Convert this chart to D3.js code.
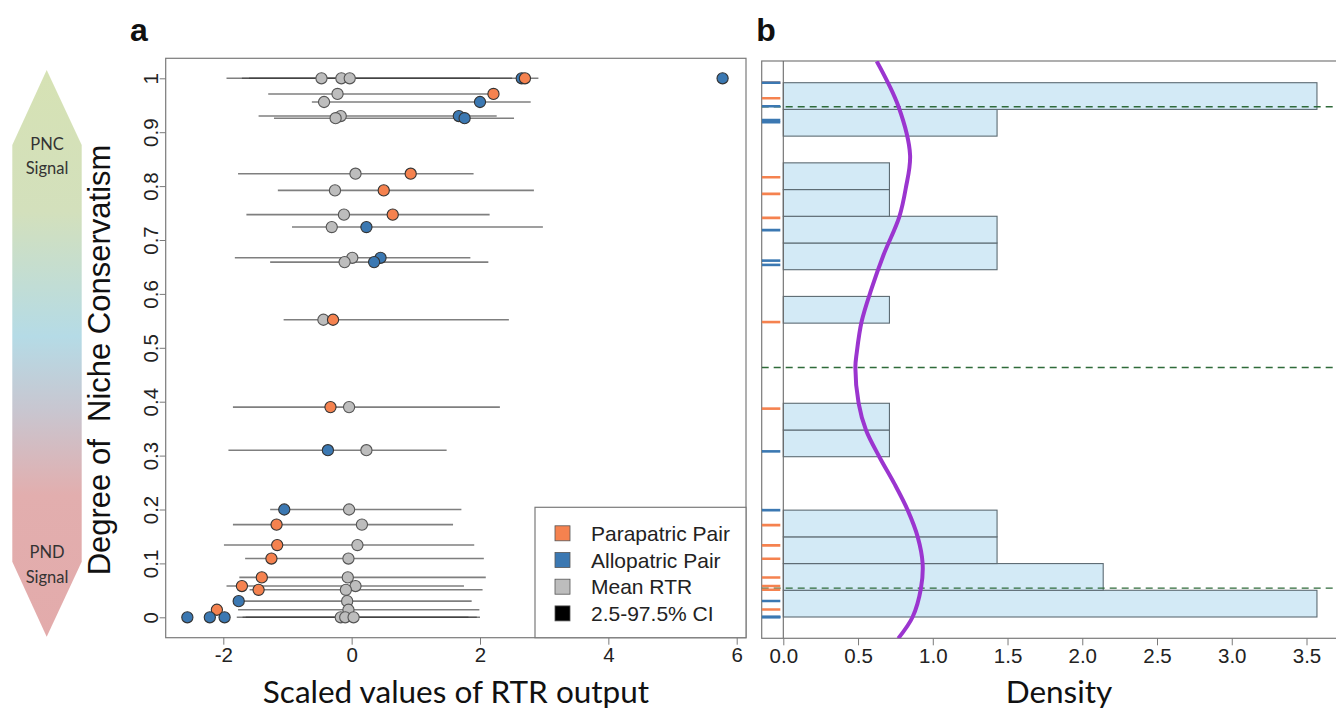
<!DOCTYPE html>
<html><head><meta charset="utf-8">
<script src="https://cdn.jsdelivr.net/npm/d3@7"></script>
<style>body{margin:0;background:#fff;}svg{display:block;}</style>
</head><body>
<svg id="chart" width="1336" height="711"></svg>
<script>
// ---------- data ----------
const degree   = [1.0, 1.0, 1.0, 0.971, 0.956, 0.930, 0.926, 0.823, 0.792, 0.747, 0.724, 0.667, 0.659, 0.552, 0.390, 0.310, 0.200, 0.172, 0.134, 0.109, 0.074, 0.058, 0.051, 0.030, 0.014, 0.0, 0.0, 0.0];
const observed = [2.65, 2.70, 5.78, 2.21, 2.00, 1.67, 1.76, 0.92, 0.50, 0.64, 0.23, 0.45, 0.35, -0.29, -0.33, -0.37, -1.05, -1.17, -1.16, -1.25, -1.40, -1.71, -1.45, -1.76, -2.10, -2.56, -2.21, -1.98];
const pairType = ["A","P","A","P","A","A","A","P","P","P","A","A","A","P","P","A","A","P","P","P","P","P","P","A","P","A","A","A"];
const meanRTR  = [-0.47, -0.16, -0.03, -0.22, -0.43, -0.17, -0.25, 0.06, -0.26, -0.12, -0.31, 0.01, -0.11, -0.44, -0.04, 0.23, -0.04, 0.16, 0.09, -0.05, -0.06, 0.06, -0.09, -0.07, -0.05, -0.17, -0.10, 0.03];
const ciLow    = [-1.95, -1.71, -1.60, -1.30, -0.62, -1.45, -1.21, -1.77, -1.15, -1.64, -0.93, -1.82, -1.27, -1.06, -1.85, -1.92, -1.27, -1.85, -1.99, -1.66, -1.75, -1.95, -1.59, -1.85, -1.77, -1.65, -1.79, -1.70];
const ciHigh   = [2.91, 2.00, 2.50, 2.25, 2.79, 2.26, 2.53, 1.90, 2.84, 2.15, 2.98, 1.85, 2.13, 2.45, 2.31, 1.48, 1.71, 1.58, 1.91, 2.06, 2.09, 1.75, 2.04, 1.87, 1.99, 1.82, 2.00, 1.95];

const xTicksA = [-2, 0, 2, 4, 6];
const yTicksA = [0, 0.1, 0.2, 0.3, 0.4, 0.5, 0.6, 0.7, 0.8, 0.9, 1];
const legendLabels = ["Parapatric Pair", "Allopatric Pair", "Mean RTR", "2.5-97.5% CI"];

// histogram (bin start, density), bin width 0.05
const binStart = [0.00, 0.05, 0.10, 0.15, 0.30, 0.35, 0.55, 0.65, 0.70, 0.75, 0.80, 0.90, 0.95];
const binDensity = [3.57, 2.14, 1.43, 1.43, 0.71, 0.71, 0.71, 1.43, 1.43, 0.71, 0.71, 1.43, 3.57];
const binWidth = 0.05;
const xTicksB = [0.0, 0.5, 1.0, 1.5, 2.0, 2.5, 3.0, 3.5];
const dashedLevels = [0.955, 0.467, 0.054];
// kernel density curve
const curveY = [1.04, 0.955, 0.865, 0.802, 0.749, 0.678, 0.615, 0.553, 0.494, 0.467, 0.400, 0.350, 0.300, 0.250, 0.200, 0.150, 0.100, 0.054, 0.000, -0.040];
const curveD = [0.625, 0.771, 0.848, 0.819, 0.776, 0.671, 0.591, 0.524, 0.491, 0.482, 0.504, 0.553, 0.642, 0.742, 0.832, 0.899, 0.932, 0.921, 0.865, 0.769];

// ---------- styling ----------
const COL = {P: "#f5824f", A: "#3b78b2", mean: "#bdbdbd"};
const sans = "'Liberation Sans', Arial, sans-serif";
const cal = "Lato, 'Open Sans', sans-serif";
const tickFont = 20.5;
const svg = d3.select("#chart");

// ---------- left gradient arrow ----------
const defs = svg.append("defs");
const grad = defs.append("linearGradient").attr("id","arrowGrad").attr("x1",0).attr("y1",0).attr("x2",0).attr("y2",1);
[[0,"#d6e2b4"],[0.25,"#d3e0bc"],[0.47,"#b5dbe6"],[0.6,"#c8c6d0"],[0.75,"#e2aeae"],[1,"#e3abab"]]
  .forEach(([o,c]) => grad.append("stop").attr("offset",o).attr("stop-color",c));
svg.append("path")
  .attr("d","M46.7,70 L81.7,145 L81.7,561.7 L46.7,636.7 L12.3,561.7 L12.3,145 Z")
  .attr("fill","url(#arrowGrad)");
const arrowTxt = svg.append("g").attr("font-family",cal).attr("font-size",16.5).attr("fill","#333").attr("text-anchor","middle");
[["PNC",150],["Signal",174],["PND",558],["Signal",583]].forEach(([t,y]) =>
  arrowTxt.append("text").attr("x",47).attr("y",y).text(t));

// ---------- panel a ----------
const xA = d3.scaleLinear().domain([-2, 6]).range([223.3, 736.7]);
const yA = d3.scaleLinear().domain([0, 1]).range([617.3, 78.3]);
const boxA = {l:165.7, r:746, t:58.3, b:637.7};

svg.append("rect").attr("x",boxA.l).attr("y",boxA.t).attr("width",boxA.r-boxA.l).attr("height",boxA.b-boxA.t)
  .attr("fill","none").attr("stroke","#7a7a7a").attr("stroke-width",1.2);

const idx = d3.range(degree.length);
const gA = svg.append("g");
gA.selectAll("line.ci").data(idx).join("line")
  .attr("x1", i => xA(ciLow[i])).attr("x2", i => xA(ciHigh[i]))
  .attr("y1", i => yA(degree[i])).attr("y2", i => yA(degree[i]))
  .attr("stroke","#3a3a3a").attr("stroke-opacity",0.65).attr("stroke-width",1.6);
gA.selectAll("circle.mean").data(idx).join("circle")
  .attr("cx", i => xA(meanRTR[i])).attr("cy", i => yA(degree[i])).attr("r",5.6)
  .attr("fill",COL.mean).attr("stroke","#555").attr("stroke-width",1.1);
gA.selectAll("circle.obs").data(idx).join("circle")
  .attr("cx", i => xA(observed[i])).attr("cy", i => yA(degree[i])).attr("r",5.6)
  .attr("fill", i => COL[pairType[i]]).attr("stroke","#333").attr("stroke-width",1.1);

// axes a
const axA = svg.append("g").attr("transform",`translate(0,${boxA.b})`)
  .call(d3.axisBottom(xA).tickValues(xTicksA).tickSize(7).tickPadding(3).tickFormat(d => d < 0 ? "-" + Math.abs(d) : d));
axA.select(".domain").remove();
axA.selectAll("line").attr("stroke","#7a7a7a");
axA.selectAll("text").attr("font-family",sans).attr("font-size",tickFont).attr("fill","#222");

const ayA = svg.append("g").attr("transform",`translate(${boxA.l},0)`)
  .call(d3.axisLeft(yA).tickValues(yTicksA).tickSize(6).tickFormat(d => (d===0||d===1) ? String(d) : d3.format(".1f")(d)));
ayA.select(".domain").remove();
ayA.selectAll("line").attr("stroke","#7a7a7a");
ayA.selectAll("text").attr("font-family",sans).attr("font-size",tickFont).attr("fill","#222")
  .attr("text-anchor","middle").attr("x",0).attr("y",0).attr("dy","0.35em")
  .attr("transform","translate(-14.5,0) rotate(-90)");

// legend
const leg = svg.append("g");
leg.append("rect").attr("x",535).attr("y",507.3).attr("width",boxA.r-535).attr("height",boxA.b-507.3)
  .attr("fill","#fff").attr("stroke","#7a7a7a").attr("stroke-width",1.2);
const legCols = [COL.P, COL.A, COL.mean, "#000"];
legendLabels.forEach((lab,i) => {
  const cy = 533.3 + i*26.7;
  leg.append("rect").attr("x",555).attr("y",cy-7.5).attr("width",15).attr("height",15)
    .attr("fill",legCols[i]).attr("stroke","#555").attr("stroke-width",0.8);
  leg.append("text").attr("x",591).attr("y",cy).attr("dy","0.36em")
    .attr("font-family",sans).attr("font-size",21).attr("fill","#222").text(lab);
});

// titles a
svg.append("text").attr("x",456).attr("y",703).attr("text-anchor","middle")
  .attr("font-family",cal).attr("font-size",31.5).attr("fill","#111").text("Scaled values of RTR output");
svg.append("text").attr("transform","translate(110,360) rotate(-90)").attr("text-anchor","middle")
  .attr("font-family",sans).attr("font-size",31).attr("fill","#111").attr("xml:space","preserve")
  .style("white-space","pre").text("Degree of  Niche Conservatism");
svg.append("text").attr("x",139).attr("y",41).attr("text-anchor","middle")
  .attr("font-family",sans).attr("font-weight","bold").attr("font-size",32).attr("fill","#111").text("a");

// ---------- panel b ----------
const xB = d3.scaleLinear().domain([0, 3.5]).range([783.3, 1306.5]);
const yB = d3.scaleLinear().domain([0, 1]).range([617, 82.7]);
const boxB = {l:761.7, r:1345, t:61, b:638.3};

svg.append("defs").append("clipPath").attr("id","clipB").append("rect")
  .attr("x",boxB.l).attr("y",boxB.t).attr("width",boxB.r-boxB.l).attr("height",boxB.b-boxB.t);

svg.append("rect").attr("x",boxB.l).attr("y",boxB.t).attr("width",boxB.r-boxB.l).attr("height",boxB.b-boxB.t)
  .attr("fill","none").attr("stroke","#7a7a7a").attr("stroke-width",1.2);

const gB = svg.append("g").attr("clip-path","url(#clipB)");
gB.selectAll("rect.bar").data(d3.range(binStart.length)).join("rect")
  .attr("x", xB(0)).attr("width", i => xB(binDensity[i]) - xB(0))
  .attr("y", i => yB(binStart[i] + binWidth)).attr("height", i => yB(binStart[i]) - yB(binStart[i] + binWidth))
  .attr("fill","#d3eaf6").attr("stroke","#5d6b73").attr("stroke-width",1.1);
gB.append("line").attr("x1",xB(0)).attr("x2",xB(0)).attr("y1",boxB.t).attr("y2",boxB.b)
  .attr("stroke","#6a6a6a").attr("stroke-width",1.1);

gB.selectAll("line.dash").data(dashedLevels).join("line")
  .attr("x1",boxB.l).attr("x2",boxB.r).attr("y1", d => yB(d)).attr("y2", d => yB(d))
  .attr("stroke","#2f6b3a").attr("stroke-width",1.3).attr("stroke-dasharray","7,5");

// rug
gB.selectAll("line.rug").data(idx).join("line")
  .attr("x1",boxB.l).attr("x2", xB(-0.02))
  .attr("y1", i => yB(degree[i])).attr("y2", i => yB(degree[i]))
  .attr("stroke", i => COL[pairType[i]]).attr("stroke-width",2.6);

// density curve
const curvePts = curveY.map((y,i) => [curveD[i], y]);
gB.append("path").datum(curvePts)
  .attr("d", d3.line().x(d => xB(d[0])).y(d => yB(d[1])).curve(d3.curveCatmullRom))
  .attr("fill","none").attr("stroke","#9b35cf").attr("stroke-width",4);

const axB = svg.append("g").attr("transform",`translate(0,${boxB.b})`)
  .call(d3.axisBottom(xB).tickValues(xTicksB).tickSize(7).tickPadding(3).tickFormat(d3.format(".1f")));
axB.select(".domain").remove();
axB.selectAll("line").attr("stroke","#7a7a7a");
axB.selectAll("text").attr("font-family",sans).attr("font-size",tickFont).attr("fill","#222");

svg.append("text").attr("x",1059).attr("y",703).attr("text-anchor","middle")
  .attr("font-family",cal).attr("font-size",31.5).attr("fill","#111").text("Density");
svg.append("text").attr("x",766).attr("y",41).attr("text-anchor","middle")
  .attr("font-family",sans).attr("font-weight","bold").attr("font-size",32).attr("fill","#111").text("b");
</script>
</body></html>
